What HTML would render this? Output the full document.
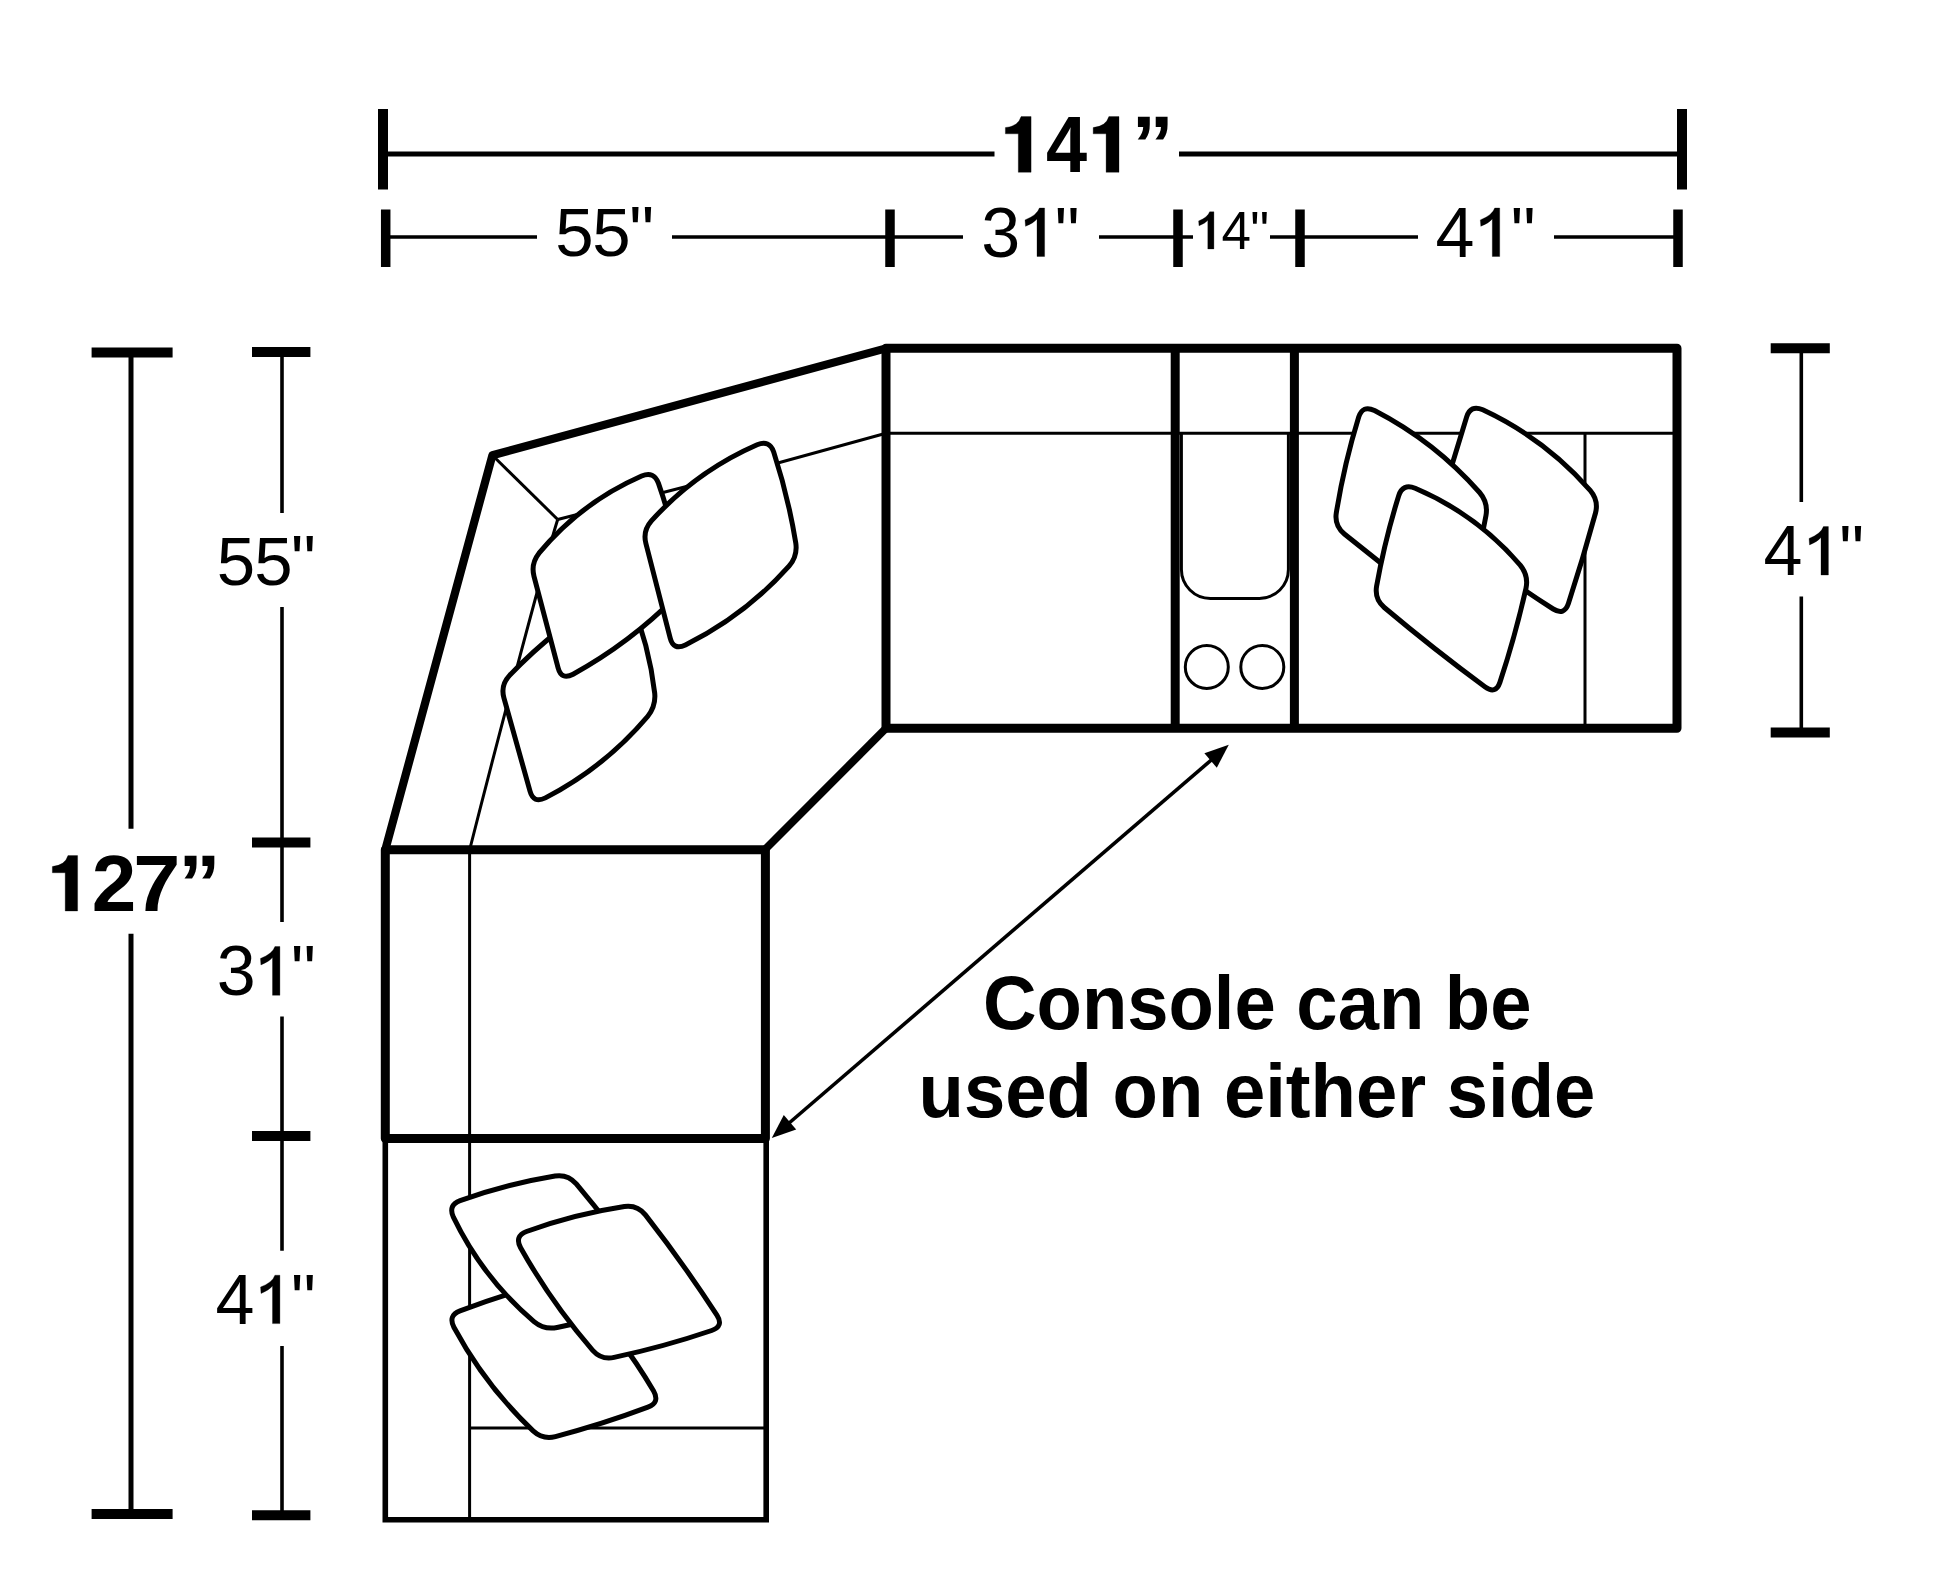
<!DOCTYPE html>
<html><head><meta charset="utf-8"><title>Sectional dimensions</title>
<style>
html,body{margin:0;padding:0;background:#fff;}
body{width:1946px;height:1586px;overflow:hidden;font-family:"Liberation Sans",sans-serif;}
svg{display:block;}
</style></head><body>
<svg width="1946" height="1586" viewBox="0 0 1946 1586">
<rect width="1946" height="1586" fill="#fff"/>
<g fill="none" stroke="#000" stroke-linecap="butt" stroke-linejoin="miter">
<g stroke-width="3">
<path d="M492.4 455.2 L557.7 519.5"/>
<path d="M557.7 519.5 L776 463.5 L886 433.2"/>
<path d="M557.7 519.5 C545 560 500 730 469.6 850"/>
<path d="M886 433.2 H1677"/>
<path d="M1585 433.2 V728"/>
<path d="M469.6 850 V1520"/>
<path d="M469.6 1428 H766"/>
</g>
<g stroke-width="3">
<path d="M1181.4 433 V569.5 A29 29 0 0 0 1210.4 598.4 H1259.4 A29 29 0 0 0 1288.4 569.5 V433"/>
<circle cx="1206.8" cy="666.9" r="21.5"/>
<circle cx="1262.3" cy="666.9" r="21.5"/>
</g>
<path stroke-width="5.6" d="M385.3 1138 V1519.8 H766.2 V1138" stroke-linejoin="miter"/>
<g stroke-width="9" stroke-linejoin="round">
<path stroke-width="8.2" d="M886 348.4 L492.4 455.2 L385.3 849.7"/>
<path stroke-width="7.8" d="M765.5 849 L886 728.3"/>
<path d="M385.3 849.7 H765.4 V1138.6 H385.3 Z"/>
<path d="M886 348.2 H1677 V728.3 H886 Z"/>
<path d="M1175.2 348 V728"/>
<path d="M1294.4 348 V728"/>
</g>
</g>
<g fill="#fff" stroke="#000" stroke-width="5" stroke-linejoin="round">
<path d="M509.4 675.6 Q555.4 627.1 613.4 594.0 Q625.0 587.7 630.3 599.7 Q649.1 644.7 654.7 693.1 Q656.0 706.2 647.6 716.5 Q604.5 767.3 545.4 797.9 Q533.5 803.8 530.0 791.2 Q516.9 744.5 503.9 697.8 Q500.4 685.3 509.4 675.6Z"/>
<path d="M539.0 553.2 Q581.1 502.5 641.6 476.0 Q654.0 470.9 658.4 483.2 Q674.0 528.1 682.5 574.8 Q684.7 587.7 675.6 597.1 Q629.8 643.0 573.1 674.3 Q561.4 680.5 558.1 667.9 Q546.1 622.1 534.0 576.3 Q530.7 563.7 539.0 553.2Z"/>
<path d="M651.4 520.9 Q696.1 471.5 757.1 444.8 Q769.5 439.7 773.7 452.0 Q788.3 496.8 795.8 543.2 Q797.7 556.2 789.0 566.2 Q744.8 615.6 685.4 645.0 Q673.4 650.7 670.2 638.1 Q658.0 590.8 645.9 543.5 Q642.6 530.9 651.4 520.9Z"/>
<path d="M1482.8 409.8 Q1544.9 438.8 1590.2 490.3 Q1598.8 500.5 1595.5 513.0 Q1583.1 558.6 1568.4 603.5 Q1564.3 615.8 1553.2 609.0 Q1496.1 573.2 1445.8 528.5 Q1436.1 519.8 1439.7 507.3 Q1452.6 461.9 1466.7 416.8 Q1470.6 404.4 1482.8 409.8Z"/>
<path d="M1374.5 410.5 Q1434.8 441.6 1479.6 492.5 Q1488.2 502.6 1486.0 515.4 Q1477.2 563.9 1463.6 611.2 Q1459.9 623.7 1449.5 616.0 Q1396.1 576.1 1344.4 534.0 Q1334.3 525.8 1336.3 512.9 Q1344.2 464.2 1358.7 417.1 Q1362.6 404.7 1374.5 410.5Z"/>
<path d="M1415.2 488.3 Q1476.7 514.4 1520.2 565.1 Q1528.7 575.5 1526.0 588.2 Q1515.3 636.0 1499.9 682.4 Q1495.7 694.7 1485.2 687.0 Q1433.5 648.9 1384.3 607.5 Q1374.4 599.1 1376.6 586.2 Q1384.8 540.3 1398.7 495.7 Q1402.7 483.3 1415.2 488.3Z"/>
<path d="M460.0 1310.8 Q505.5 1293.7 552.5 1281.4 Q565.1 1278.2 574.4 1287.4 Q620.4 1334.4 653.6 1391.1 Q660.1 1402.5 647.9 1407.2 Q602.4 1424.3 555.4 1436.6 Q542.8 1439.8 533.1 1430.9 Q485.2 1385.4 453.9 1327.2 Q447.9 1315.5 460.0 1310.8Z"/>
<path d="M460.1 1200.6 Q506.5 1184.0 555.0 1176.0 Q567.9 1174.0 576.3 1183.9 Q618.6 1234.4 656.5 1288.3 Q663.9 1299.0 651.6 1303.0 Q605.0 1317.7 557.1 1327.5 Q544.3 1330.1 534.0 1321.6 Q482.7 1278.0 453.4 1217.2 Q447.9 1205.1 460.1 1200.6Z"/>
<path d="M526.5 1231.5 Q574.2 1214.1 624.4 1206.5 Q637.4 1204.7 645.4 1214.9 Q683.4 1263.5 716.9 1315.2 Q724.0 1326.2 711.7 1330.5 Q663.7 1346.8 614.1 1357.4 Q601.4 1360.1 592.7 1350.3 Q551.4 1302.7 520.6 1247.7 Q514.3 1236.2 526.5 1231.5Z"/>
</g>
<g fill="none" stroke="#000">
<path stroke-width="10" d="M383 109 V189.5 M1682 109 V189.5"/>
<path stroke-width="5" d="M383 154 H994.5 M1179 154 H1682"/>
<path stroke-width="9.5" d="M385.7 209.5 V267 M890 209.5 V267 M1178 209.5 V267 M1300 209.5 V267 M1678 209.5 V267"/>
<path stroke-width="3.3" d="M386 237 H537 M672 237 H963 M1099 237 H1193 M1270 237 H1418 M1554 237 H1678"/>
<path stroke-width="10" d="M91.6 352.6 H172.6 M91.6 1514 H172.6"/>
<path stroke-width="5" d="M131 352 V828.7 M131 933.8 V1514"/>
<path stroke-width="10" d="M252 352 H310.4 M252 842.4 H310.4 M252 1136 H310.4 M252 1515.2 H310.4"/>
<path stroke-width="3.6" d="M282 352 V513 M282 607 V922 M282 1016.4 V1250.7 M282 1346 V1515"/>
<path stroke-width="10" d="M1770.7 348.3 H1829.8 M1770.7 732.4 H1829.8"/>
<path stroke-width="3.6" d="M1801.3 348 V502 M1801.3 596.6 V732"/>
<path stroke-width="3.6" d="M1220 752.5 L781 1130"/>
</g>
<path fill="#000" d="M1228.8 744.8 L1216.8 767.7 L1204.4 753.3 Z"/>
<path fill="#000" d="M771.8 1138.0 L783.8 1115.1 L796.2 1129.5 Z"/>
<g font-family="Liberation Sans, sans-serif" fill="#000">
<path d="M1031.10 116.60 L1021.08 116.60 Q1018.30 126.35 1005.38 127.57 L1005.38 133.87 L1018.30 133.87 L1018.30 172.30 L1031.10 172.30 Z" stroke="#000" stroke-width="0.3" stroke-linejoin="round"/>
<text transform="translate(1046.08 172.30) scale(0.9250 1)" font-size="80" font-weight="bold">4</text>
<path d="M1119.00 116.60 L1108.88 116.60 Q1106.10 126.35 1093.18 127.57 L1093.18 133.87 L1106.10 133.87 L1106.10 172.30 L1119.00 172.30 Z" stroke="#000" stroke-width="0.3" stroke-linejoin="round"/>
<text transform="translate(1131.55 172.30) scale(1.0600 1)" font-size="80" font-weight="bold">”</text>
<path d="M77.60 855.60 L67.97 855.60 Q65.20 865.30 52.35 866.51 L52.35 872.77 L65.20 872.77 L65.20 911.00 L77.60 911.00 Z" stroke="#000" stroke-width="0.3" stroke-linejoin="round"/>
<text x="91.63" y="911.00" font-size="80" font-weight="bold">2</text>
<text transform="translate(133.16 911.00) scale(1.0600 1)" font-size="80" font-weight="bold">7</text>
<text transform="translate(178.35 911.00) scale(1.0600 1)" font-size="80" font-weight="bold">”</text>
<text x="555.14" y="256.40" font-size="69">5</text>
<text x="592.14" y="256.40" font-size="69">5</text>
<text x="629.23" y="256.40" font-size="70">&quot;</text>
<text x="981.33" y="256.50" font-size="70">3</text>
<path d="M1044.60 208.00 L1039.42 208.00 Q1037.00 215.28 1025.02 219.88 L1025.51 226.33 Q1033.61 223.03 1037.00 218.91 L1037.00 256.50 L1044.60 256.50 Z" stroke="#000" stroke-width="0.3" stroke-linejoin="round"/>
<text x="1054.63" y="256.50" font-size="70">&quot;</text>
<path d="M1213.90 211.80 L1209.65 211.80 Q1207.80 217.37 1198.64 220.89 L1199.01 225.82 Q1205.20 223.30 1207.80 220.15 L1207.80 248.90 L1213.90 248.90 Z" stroke="#000" stroke-width="0.3" stroke-linejoin="round"/>
<text x="1221.38" y="248.90" font-size="53">4</text>
<text x="1250.35" y="248.90" font-size="53">&quot;</text>
<text x="1435.59" y="256.50" font-size="70">4</text>
<path d="M1499.70 208.00 L1494.72 208.00 Q1492.30 215.28 1480.32 219.88 L1480.81 226.33 Q1488.90 223.03 1492.30 218.91 L1492.30 256.50 L1499.70 256.50 Z" stroke="#000" stroke-width="0.3" stroke-linejoin="round"/>
<text x="1510.73" y="256.50" font-size="70">&quot;</text>
<text x="216.74" y="585.20" font-size="69">5</text>
<text x="254.14" y="585.20" font-size="69">5</text>
<text x="290.93" y="585.20" font-size="70">&quot;</text>
<text x="216.83" y="995.30" font-size="70">3</text>
<path d="M279.90 946.50 L274.94 946.50 Q272.50 953.82 260.45 958.46 L260.93 964.95 Q269.08 961.63 272.50 957.48 L272.50 995.30 L279.90 995.30 Z" stroke="#000" stroke-width="0.3" stroke-linejoin="round"/>
<text x="290.93" y="995.30" font-size="70">&quot;</text>
<text x="215.39" y="1323.60" font-size="70">4</text>
<path d="M279.90 1275.20 L274.92 1275.20 Q272.50 1282.46 260.55 1287.06 L261.03 1293.50 Q269.11 1290.20 272.50 1286.09 L272.50 1323.60 L279.90 1323.60 Z" stroke="#000" stroke-width="0.3" stroke-linejoin="round"/>
<text x="290.93" y="1323.60" font-size="70">&quot;</text>
<text x="1763.59" y="575.00" font-size="70">4</text>
<path d="M1828.40 526.60 L1823.42 526.60 Q1821.00 533.86 1809.05 538.46 L1809.53 544.90 Q1817.61 541.60 1821.00 537.49 L1821.00 575.00 L1828.40 575.00 Z" stroke="#000" stroke-width="0.3" stroke-linejoin="round"/>
<text x="1839.13" y="575.00" font-size="70">&quot;</text>
<text transform="translate(982.96 1029.20) scale(0.9767 1)" font-size="76" font-weight="bold">Console can be</text>
<text transform="translate(918.59 1117.00) scale(0.9774 1)" font-size="76" font-weight="bold">used on either side</text>
</g>
</svg>
</body></html>
